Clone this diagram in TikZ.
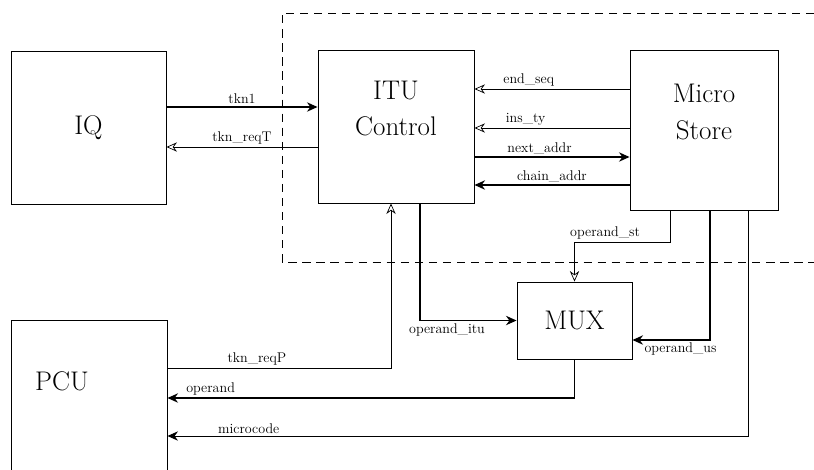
\documentclass[tikz,border=0pt]{standalone}
\usepackage{amsmath,amssymb}
\usetikzlibrary{arrows.meta,positioning}

\begin{document}
\begin{tikzpicture}[x=0.03cm, y=-0.03cm, >=Stealth,
    blk/.style={draw, thick, align=center, font=\fontsize{23}{31}\selectfont},
    lbl/.style={font=\fontsize{12}{14}\selectfont, inner sep=2pt},
    sigthk/.style={very thick, -{Stealth[length=9pt,width=8pt]}},
    sigthn/.style={semithick, -{Stealth[open,length=9pt,width=8pt]}}]
    \useasboundingbox (0,0) rectangle (814,469);

    % Blocks
    \node[blk, minimum width=4.65cm, minimum height=4.59cm] (iq) at (88.5,127.5) {IQ};
    \node[blk, minimum width=4.68cm, minimum height=4.59cm] (itu) at (396,126.5) {ITU\\Control\\\mbox{}};
    \node[blk, minimum width=4.44cm, minimum height=4.8cm] (ms) at (704,130) {Micro\\Store\\\mbox{}};
    \node[blk, minimum width=3.45cm, minimum height=2.31cm] (mux) at (574.5,320.5) {MUX};
    \node[blk, minimum width=4.68cm, minimum height=5.4cm,
          label={[blk, draw=none, shift={(-0.81cm,0.87cm)}]center:PCU}] (pcu) at (89,410) {};

    % ITU boundary
    \draw[dashed, thick, dash pattern=on 7pt off 5pt] (814,13) -- (282,13) -- (282,262) -- (814,262);

    % IQ <-> ITU
    \draw[sigthk] (iq.east |- 0,107) -- (itu.west |- 0,107) node[lbl, midway, above] {tkn1};
    \draw[sigthn] (itu.west |- 0,147) -- (iq.east |- 0,147) node[lbl, midway, above] {tkn\_reqT};

    % ITU <-> Micro Store
    \draw[sigthn] (ms.west |- 0,89) -- (itu.east |- 0,89) node[lbl, pos=0.65, above] {end\_seq};
    \draw[sigthn] (ms.west |- 0,128) -- (itu.east |- 0,128) node[lbl, pos=0.67, above] {ins\_ty};
    \draw[sigthk] (itu.east |- 0,157) -- (ms.west |- 0,157) node[lbl, pos=0.42, above] {next\_addr};
    \draw[sigthk] (ms.west |- 0,185) -- (itu.east |- 0,185) node[lbl, pos=0.5, above] {chain\_addr};

    % into MUX
    \draw[sigthn] (ms.south -| 670,0) |- (670,242) -| (mux.north) node[lbl, pos=0.34, above] {operand\_st};
    \draw[sigthk] (itu.south -| 420,0) |- (mux.west) node[lbl, pos=0.64, below] {operand\_itu};
    \draw[sigthk] (ms.south -| 710,0) |- (mux.east |- 0,340) node[lbl, pos=0.69, below] {operand\_us};

    % PCU connections
    \draw[sigthn] (pcu.east |- 0,368) -| (itu.south -| 391,0) node[lbl, pos=0.2, above] {tkn\_reqP};
    \draw[sigthk] (mux.south) |- (pcu.east |- 0,398) node[lbl, pos=0.947, above] {operand};
    \draw[sigthk, thick] (ms.south -| 748,0) |- (pcu.east |- 0,436) node[lbl, pos=0.93, above] {microcode};
\end{tikzpicture}
\end{document}
